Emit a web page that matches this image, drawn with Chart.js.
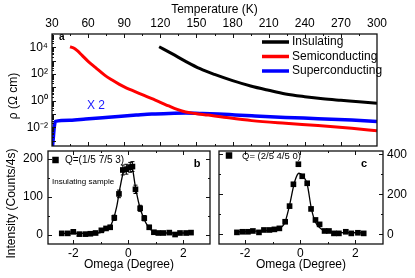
<!DOCTYPE html>
<html>
<head>
<meta charset="utf-8">
<script src="https://cdn.jsdelivr.net/npm/chart.js@4.4.1/dist/chart.umd.min.js"></script>
<style>
html, body { margin: 0; padding: 0; background: #fff; }
#wrap { position: relative; width: 415px; height: 278px; overflow: hidden; }
canvas { position: absolute; }
</style>
</head>
<body>
<div id="wrap">
  <canvas id="pa" width="415" height="150" style="left:0;top:0"></canvas>
  <canvas id="pb" width="214" height="150" style="left:0;top:128px"></canvas>
  <canvas id="pc" width="201" height="132" style="left:214px;top:146px"></canvas>
</div>
<script>
// ---- panel a : resistivity vs temperature ----
var seriesNames = ["Insulating", "Semiconducting", "Superconducting"];
var seriesColors = ["#000000", "#ff0000", "#0000ff"];

var tInsul = [119, 130, 141, 153, 165, 180, 195, 210, 224, 240, 255, 270, 285, 300];
var rhoInsul = [1.1e4, 3.2e3, 890, 250, 93, 32, 12.6, 6.0, 3.2, 2.0, 1.4, 1.07, 0.83, 0.63];

var tSemi = [45, 48, 51, 55, 60, 66, 74, 80, 86, 92, 99, 106, 113, 120, 127, 134, 141, 149, 160, 170, 196, 224, 251, 279, 300];
var rhoSemi = [1.1e4, 8.9e3, 5.6e3, 2.5e3, 890, 316, 79, 35, 16.6, 8.9, 4.8, 2.6, 1.4, 0.76, 0.4, 0.22, 0.14, 0.11, 0.083, 0.063, 0.032, 0.02, 0.0135, 0.0085, 0.0056];

var tSuper = [30.3, 32.8, 45, 58, 72, 85, 100, 113, 127, 141, 155, 168, 182, 196, 224, 251, 279, 300];
var rhoSuper = [3e-4, 0.028, 0.034, 0.042, 0.053, 0.066, 0.083, 0.1, 0.111, 0.117, 0.11, 0.1, 0.086, 0.074, 0.056, 0.045, 0.035, 0.028];

var tempTicks = [30, 60, 90, 120, 150, 180, 210, 240, 270, 300];
var rhoTicks = [1e-2, 1, 1e2, 1e4];
var rhoTickLabels = ["10\u207B\u00B2", "10\u2070", "10\u00B2", "10\u2074"];

// ---- panel b : Q=(1/5 7/5 3), insulating sample ----
var omegaB = [-2.42, -2.2, -2.0, -1.78, -1.56, -1.38, -1.19, -0.98, -0.81, -0.66, -0.51, -0.34, -0.2, -0.07, 0.07, 0.15, 0.26, 0.43, 0.58, 0.76, 0.93, 1.09, 1.27, 1.49, 1.7, 1.88, 2.1, 2.28];
var intB = [4, 4, 8, 2, 2, 3, 5, 12, 17, 20, 45, 108, 171, 173, 178, 180, 120, 70, 44, 20, 7, 5, 5, 6, 1, 5, 5, 6];
var errB = [3, 3, 3, 3, 3, 3, 3, 4, 4, 5, 7, 10, 13, 13, 13, 13, 11, 8, 7, 5, 3, 3, 3, 3, 3, 3, 3, 3];
var fitOmegaB = [-2.42, -1.1, -0.85, -0.68, -0.55, -0.42, -0.3, -0.18, -0.06, 0.05, 0.14, 0.25, 0.4, 0.55, 0.72, 0.9, 1.1, 2.28];
var fitIntB = [4, 5, 12, 20, 40, 75, 125, 165, 180, 184, 178, 130, 78, 45, 22, 9, 5, 5];

// ---- panel c : Q=(2/5 4/5 0) ----
var omegaC = [-2.3, -2.1, -1.9, -1.72, -1.5, -1.32, -1.12, -0.94, -0.76, -0.55, -0.39, -0.25, -0.07, 0.07, 0.25, 0.39, 0.55, 0.7, 0.88, 1.04, 1.22, 1.4, 1.65, 1.85, 2.09, 2.3];
var intC = [10, 13, 13, 17, 10, 22, 22, 25, 30, 63, 141, 250, 350, 290, 255, 127, 72, 50, 17, 17, 5, 5, 13, 5, 8, 5];
var fitOmegaC = [-2.3, -1.5, -1.0, -0.8, -0.65, -0.55, -0.4, -0.2, -0.05, 0.1, 0.25, 0.4, 0.55, 0.75, 0.9, 1.1, 2.3];
var fitIntC = [13, 17, 22, 28, 40, 63, 140, 265, 305, 290, 250, 130, 60, 28, 15, 10, 8];

var omegaTicks = [-2, 0, 2];
var ticksB = [0, 100, 200];
var ticksC = [0, 200, 400];

var FONT = "'Liberation Sans', Arial, Helvetica, sans-serif";
Chart.defaults.font.family = FONT;
Chart.defaults.font.size = 12;
Chart.defaults.color = "#000";
Chart.defaults.animation = false;
Chart.defaults.plugins.legend.display = false;
Chart.defaults.plugins.tooltip.enabled = false;

function pts(xs, ys) {
  return xs.map(function (x, i) { return { x: x, y: ys[i] }; });
}
// use the given tick values and keep the axis range that was asked for
function fixedTicks(list) {
  return function (s) {
    s.ticks = list.map(function (v) { return { value: v }; });
    s.min = s.options.min;
    s.max = s.options.max;
  };
}
// fixed axis thickness, no extra room for end labels
function fitW(w) {
  return function (s) { s.width = w; s.paddingTop = 0; s.paddingBottom = 0; };
}
function fitH(h) {
  return function (s) { s.height = h; s.paddingLeft = 0; s.paddingRight = 0; };
}

// box around the plot area with inward ticks (Origin style)
var framePlugin = {
  id: "frame",
  afterDatasetsDraw: function (chart, args, o) {
    var ctx = chart.ctx, a = chart.chartArea;
    var xs = chart.scales.x, ys = chart.scales.y;
    ctx.save();
    ctx.strokeStyle = "#111";
    ctx.lineWidth = 1;
    ctx.beginPath();
    [[o.xMajor, 4], [o.xMinor, 2]].forEach(function (p) {
      (p[0] || []).forEach(function (v) {
        var px = Math.round(xs.getPixelForValue(v)) + 0.5;
        if (px < a.left || px > a.right) return;
        if (o.bottom) { ctx.moveTo(px, a.bottom); ctx.lineTo(px, a.bottom - p[1]); }
        if (o.top) { ctx.moveTo(px, a.top); ctx.lineTo(px, a.top + p[1]); }
      });
    });
    [[o.yMajor, 4], [o.yMinor, 2]].forEach(function (p) {
      (p[0] || []).forEach(function (v) {
        var py = Math.round(ys.getPixelForValue(v)) + 0.5;
        if (py < a.top || py > a.bottom) return;
        if (o.left) { ctx.moveTo(a.left, py); ctx.lineTo(a.left + p[1], py); }
        if (o.right) { ctx.moveTo(a.right, py); ctx.lineTo(a.right - p[1], py); }
      });
    });
    ctx.stroke();
    ctx.lineWidth = 1.3;
    ctx.strokeRect(a.left, a.top, a.right - a.left, a.bottom - a.top);
    ctx.restore();
  }
};

// free text and marker notes (canvas pixel positions)
var notesPlugin = {
  id: "notes",
  afterDraw: function (chart, args, o) {
    var ctx = chart.ctx;
    (o.items || []).forEach(function (n) {
      ctx.save();
      ctx.fillStyle = n.color || "#000";
      if (n.box) {
        ctx.fillRect(n.x - n.box / 2, n.y - n.box / 2, n.box, n.box);
      } else {
        ctx.font = n.font;
        ctx.textAlign = n.align || "left";
        ctx.textBaseline = "middle";
        ctx.translate(n.x, n.y);
        if (n.rot) ctx.rotate(n.rot);
        ctx.fillText(n.text, 0, 0);
      }
      ctx.restore();
    });
  }
};

// legend drawn inside the plot area
var lineLegend = {
  id: "lineLegend",
  afterDraw: function (chart, args, o) {
    var ctx = chart.ctx;
    ctx.save();
    chart.data.datasets.forEach(function (ds, i) {
      var y = o.y + i * o.gap;
      ctx.strokeStyle = ds.borderColor;
      ctx.lineWidth = o.lineWidth;
      ctx.beginPath();
      ctx.moveTo(o.x, y);
      ctx.lineTo(o.x + o.len, y);
      ctx.stroke();
      ctx.fillStyle = "#000";
      ctx.font = o.font;
      ctx.textBaseline = "middle";
      ctx.fillText(ds.label, o.x + o.len + o.space, y);
    });
    ctx.restore();
  }
};

var errBars = {
  id: "errBars",
  beforeDatasetsDraw: function (chart) {
    var ctx = chart.ctx, ys = chart.scales.y;
    chart.data.datasets.forEach(function (ds, i) {
      if (!ds.errors) return;
      var meta = chart.getDatasetMeta(i);
      ctx.save();
      ctx.strokeStyle = "#000";
      ctx.lineWidth = 1;
      ctx.beginPath();
      meta.data.forEach(function (pt, j) {
        var e = ds.errors[j], v = ds.data[j].y;
        var y1 = ys.getPixelForValue(v + e), y2 = ys.getPixelForValue(v - e);
        ctx.moveTo(pt.x, y1); ctx.lineTo(pt.x, y2);
        ctx.moveTo(pt.x - 2, y1); ctx.lineTo(pt.x + 2, y1);
        ctx.moveTo(pt.x - 2, y2); ctx.lineTo(pt.x + 2, y2);
      });
      ctx.stroke();
      ctx.restore();
    });
  }
};

var noGrid = { display: false, drawTicks: false };
var noBorder = { display: false };

var minorT = [];
for (var t = 45; t < 300; t += 30) minorT.push(t);
var decades = [1e-3, 1e-2, 1e-1, 1, 10, 1e2, 1e3, 1e4];
var minorRho = [];
decades.forEach(function (d) { for (var k = 2; k <= 9; k++) minorRho.push(d * k); });

// ---------- chart a ----------
new Chart(document.getElementById("pa"), {
  type: "line",
  data: {
    datasets: [
      { label: seriesNames[0], data: pts(tInsul, rhoInsul), borderColor: seriesColors[0], borderWidth: 3 },
      { label: seriesNames[1], data: pts(tSemi, rhoSemi), borderColor: seriesColors[1], borderWidth: 3 },
      { label: seriesNames[2], data: pts(tSuper, rhoSuper), borderColor: seriesColors[2], borderWidth: 3.5 }
    ]
  },
  options: {
    responsive: false,
    layout: { padding: { left: 0, right: 38, top: 0, bottom: 4 } },
    elements: { point: { radius: 0 }, line: { cubicInterpolationMode: "monotone" } },
    scales: {
      x: {
        type: "linear", position: "top", min: 30, max: 300,
        afterBuildTicks: fixedTicks(tempTicks),
        ticks: { padding: 3, maxRotation: 0, autoSkip: false },
        grid: noGrid, border: noBorder,
        title: { display: true, text: "Temperature (K)", padding: { top: 2, bottom: 0 } },
        afterFit: fitH(34)
      },
      y: {
        type: "logarithmic", min: 4e-4, max: 1e5,
        afterBuildTicks: fixedTicks(rhoTicks),
        ticks: { padding: 4, callback: function (v, i) { return rhoTickLabels[i]; } },
        grid: noGrid, border: noBorder,
        afterFit: fitW(52)
      }
    },
    plugins: {
      frame: { xMajor: tempTicks, xMinor: minorT, yMajor: decades, yMinor: minorRho, top: true, bottom: true, left: true },
      lineLegend: { x: 262, y: 42, gap: 14.5, len: 27, space: 3, lineWidth: 3.5, font: "12px " + FONT },
      notes: { items: [
        { text: "\u03C1 (\u03A9 cm)", x: 13.5, y: 96, rot: -Math.PI / 2, align: "center", font: "12px " + FONT },
        { text: "a", x: 59, y: 37, font: "bold 10px " + FONT },
        { text: "X 2", x: 87, y: 105.5, color: "#1a1aff", font: "12px " + FONT }
      ] }
    }
  },
  plugins: [framePlugin, lineLegend, notesPlugin]
});

// ---------- chart b ----------
new Chart(document.getElementById("pb"), {
  type: "scatter",
  data: {
    datasets: [
      { data: pts(omegaB, intB), errors: errB, pointStyle: "rect", pointRadius: 4, backgroundColor: "#000", borderColor: "#000", borderWidth: 0, order: 0 },
      { data: pts(fitOmegaB, fitIntB), showLine: true, pointRadius: 0, borderColor: "#000", borderWidth: 1.3, cubicInterpolationMode: "monotone", order: 1 }
    ]
  },
  options: {
    responsive: false,
    layout: { padding: { left: 0, right: 4, top: 23, bottom: 0 } },
    scales: {
      x: {
        type: "linear", min: -2.92, max: 2.97,
        afterBuildTicks: fixedTicks(omegaTicks),
        ticks: { padding: 2, maxRotation: 0 },
        grid: noGrid, border: noBorder,
        title: { display: true, text: "Omega (Degree)", padding: { top: 0, bottom: 6 } },
        afterFit: fitH(34)
      },
      y: {
        type: "linear", min: -24, max: 221,
        afterBuildTicks: fixedTicks(ticksB),
        ticks: { padding: 5 },
        grid: noGrid, border: noBorder,
        afterFit: fitW(48)
      }
    },
    plugins: {
      frame: { xMajor: omegaTicks, xMinor: [-3, -1, 1, 3], yMajor: ticksB, yMinor: [50, 150], top: true, bottom: true, left: true, right: true },
      notes: { items: [
        { text: "Intensity (Counts/4s)", x: 12, y: 75.5, rot: -Math.PI / 2, align: "center", font: "12px " + FONT },
        { box: 6.5, x: 55.5, y: 32 },
        { text: "Q=(1/5 7/5 3)", x: 65, y: 32, font: "10px " + FONT },
        { text: "Insulating sample", x: 52, y: 54, font: "8px " + FONT },
        { text: "b", x: 197, y: 35.5, align: "center", font: "bold 11px " + FONT }
      ] }
    }
  },
  plugins: [errBars, framePlugin, notesPlugin]
});

// ---------- chart c ----------
new Chart(document.getElementById("pc"), {
  type: "scatter",
  data: {
    datasets: [
      { data: pts(omegaC, intC), pointStyle: "rect", pointRadius: 4, backgroundColor: "#000", borderColor: "#000", borderWidth: 0, order: 0 },
      { data: pts(fitOmegaC, fitIntC), showLine: true, pointRadius: 0, borderColor: "#000", borderWidth: 1.3, cubicInterpolationMode: "monotone", order: 1 }
    ]
  },
  options: {
    responsive: false,
    layout: { padding: { left: 5, right: 0, top: 5, bottom: 0 } },
    scales: {
      x: {
        type: "linear", min: -2.95, max: 3.0,
        afterBuildTicks: fixedTicks(omegaTicks),
        ticks: { padding: 2, maxRotation: 0 },
        grid: noGrid, border: noBorder,
        title: { display: true, text: "Omega (Degree)", padding: { top: 0, bottom: 6 } },
        afterFit: fitH(34)
      },
      y: {
        type: "linear", position: "right", min: -48, max: 416,
        afterBuildTicks: fixedTicks(ticksC),
        ticks: { padding: 4 },
        grid: noGrid, border: noBorder,
        afterFit: fitW(32)
      }
    },
    plugins: {
      frame: { xMajor: omegaTicks, xMinor: [-1, 1], yMajor: ticksC, yMinor: [100, 300], top: true, bottom: true, left: true, right: true },
      notes: { items: [
        { box: 6.5, x: 15, y: 9.5 },
        { text: "Q= (2/5 4/5 0)", x: 28, y: 10, font: "9.5px " + FONT },
        { text: "c", x: 150, y: 17.5, align: "center", font: "bold 11px " + FONT }
      ] }
    }
  },
  plugins: [framePlugin, notesPlugin]
});
</script>
</body>
</html>
